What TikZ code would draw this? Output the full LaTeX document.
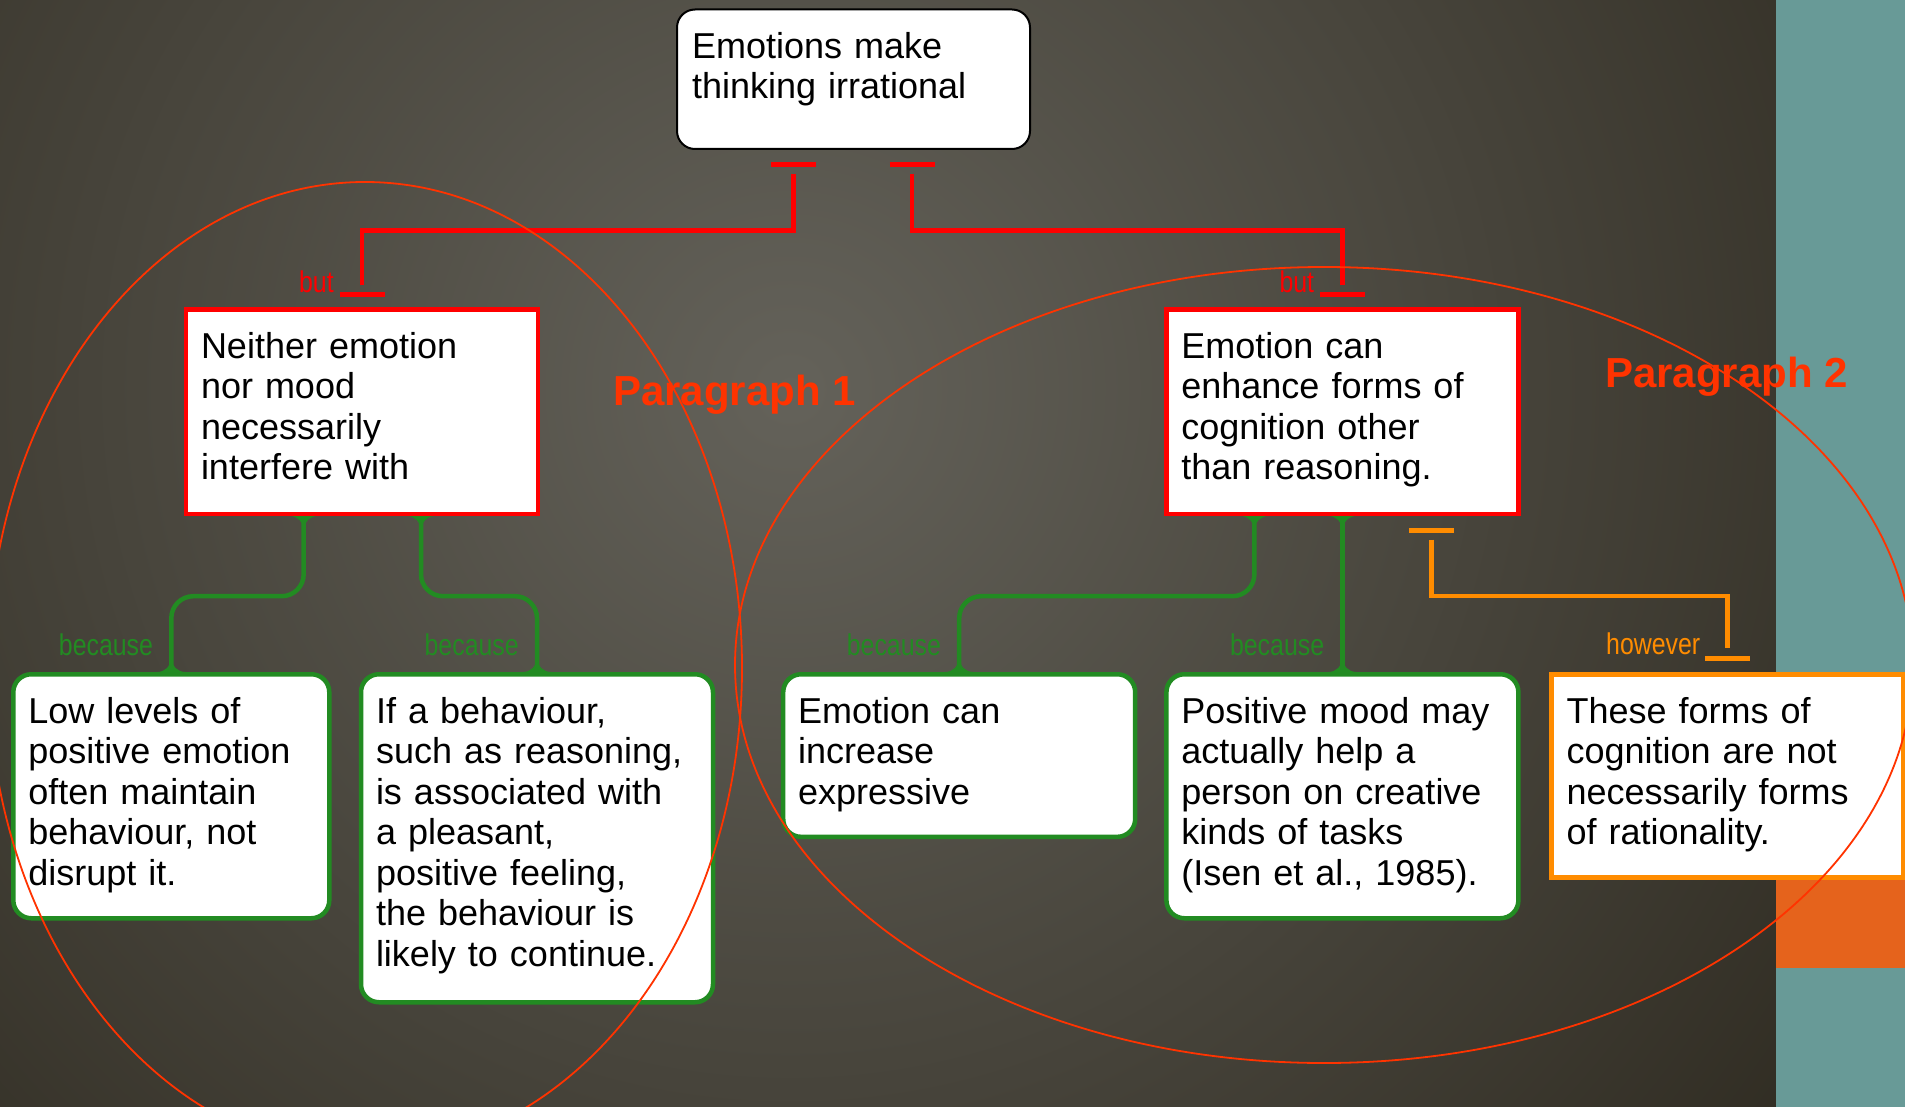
\documentclass[tikz,border=0pt]{standalone}
\usepackage{fontspec}
\setmainfont{Liberation Sans}
\newfontfamily\narrowsans[FakeStretch=0.83]{Liberation Sans}
\definecolor{bglight}{RGB}{100,98,90}
\definecolor{bgdark}{RGB}{42,38,28}
\definecolor{stripteal}{RGB}{104,154,151}
\definecolor{striporange}{RGB}{229,99,28}
\definecolor{linkred}{RGB}{255,0,0}
\definecolor{linkgreen}{RGB}{34,139,34}
\definecolor{linkorange}{RGB}{255,140,0}
\definecolor{paracolor}{RGB}{255,51,0}
\tikzset{
	treenode/.style = {
		align=left,
		anchor=north,
		fill=white,
		text=black,
		font=\fontsize{36}{40.5}\selectfont,
		text width=322pt,
		text height=27pt,
		inner xsep=15pt,
		inner ysep=22pt
	},
	node_top/.style = {
		treenode,
		draw=black,
		line width=2pt,
		rounded corners=18pt
	},
	node_r/.style = {
		treenode,
		draw=linkred,
		line width=4.5pt
	},
	node_g/.style = {
		treenode,
		draw=linkgreen,
		line width=4.5pt,
		rounded corners=18pt
	},
	node_o/.style = {
		treenode,
		draw=linkorange,
		line width=4.5pt
	},
	link_r/.style = {
		draw=linkred,
		line width=4.5pt
	},
	link_g/.style = {
		draw=linkgreen,
		line width=4.5pt,
		rounded corners=22pt
	},
	link_o/.style = {
		draw=linkorange,
		line width=4.5pt
	},
	tee_bar/.pic = {
		\draw[line width=5pt] (-22.5,0) -- (22.5,0);
	},
	word/.style = {
		font=\narrowsans\fontsize{30}{30}\selectfont,
		anchor=base east,
		inner sep=0pt
	},
	para/.style = {
		text=paracolor,
		font=\bfseries\fontsize{42}{42}\selectfont,
		anchor=base west,
		inner sep=0pt
	},
	ring/.style = {
		draw=paracolor,
		line width=1.8pt
	},
	flare_down/.pic = {
		\fill[linkgreen] (-14,0) arc[start angle=-90, end angle=0, radius=14]
			arc[start angle=180, end angle=270, radius=14] -- cycle;
	},
	flare_up/.pic = {
		\fill[linkgreen] (-14,0) arc[start angle=90, end angle=0, radius=14]
			arc[start angle=180, end angle=90, radius=14] -- cycle;
	}
}
\begin{document}
\begin{tikzpicture}[x=1pt, y=-1pt]
\useasboundingbox (0,0) rectangle (1905,1107);
\begin{scope}
	\clip (0,0) rectangle (1905,1107);
	\shade[inner color=bglight, outer color=bgdark] (790,389) circle [radius=1400];
\end{scope}
\fill[stripteal] (1776,0) rectangle (1905,1107);
\fill[striporange] (1776,860) rectangle (1905,968);

\node [node_top, text width=323pt, text depth=68.5pt] (irrational) at (853.5,8.5) {Emotions make\\thinking irrational};
\node [node_r, text depth=133.5pt] (neither) at (362,307) {Neither emotion\\nor mood\\necessarily\\interfere with};
\node [node_r, text depth=133.5pt] (enhance) at (1342.4,307) {Emotion can\\enhance forms of\\cognition other\\than reasoning.};
\node [node_g, text width=286pt, text depth=173pt] (lowlevels) at (171.3,672) {Low levels of\\positive emotion\\often maintain\\behaviour, not\\disrupt it.};
\node [node_g, text depth=257pt] (pleasant) at (537,672) {If a behaviour,\\such as reasoning,\\is associated with\\a pleasant,\\positive feeling,\\the behaviour is\\likely to continue.};
\node [node_g, text depth=91.6pt] (expressive) at (959.2,672) {Emotion can\\increase\\expressive};
\node [node_g, text depth=173pt] (creative) at (1342.4,672) {Positive mood may\\actually help a\\person on creative\\kinds of tasks\\(Isen et al., 1985).};
\node [node_o, text depth=132pt] (notrational) at (1727.5,672) {These forms of\\cognition are not\\necessarily forms\\of rationality.};

\draw [link_r, shorten <=23.7pt, shorten >=22pt] ([xshift=-60pt]irrational.south) -- ++(0,80.5) -| (neither.north)
	node [word, text=linkred, xshift=-26pt, yshift=15pt] {but};
\draw [link_r, shorten <=23.7pt, shorten >=22pt] ([xshift=58.5pt]irrational.south) -- ++(0,80.5) -| (enhance.north)
	node [word, text=linkred, xshift=-26pt, yshift=15pt] {but};
\draw [link_o, shorten <=23.5pt, shorten >=23.7pt] ([xshift=89pt]enhance.south) -- ++(0,80.2) -| (notrational.north)
	node [word, text=linkorange, xshift=-25pt, yshift=18pt] {however};
\begin{scope}[linkred]
	\pic at ([xshift=-60pt, yshift=-14.3pt]irrational.south) {tee_bar};
	\pic at ([xshift=58.5pt, yshift=-14.3pt]irrational.south) {tee_bar};
	\pic at ([yshift=12.7pt]neither.north) {tee_bar};
	\pic at ([yshift=12.7pt]enhance.north) {tee_bar};
\end{scope}
\begin{scope}[linkorange]
	\pic at ([xshift=89pt, yshift=-14.5pt]enhance.south) {tee_bar};
	\pic at ([yshift=13.7pt]notrational.north) {tee_bar};
\end{scope}

\draw [link_g] ([xshift=-58.3pt]neither.south) -- ++(0,80.2) -| (lowlevels.north)
	node [word, text=linkgreen, xshift=-16pt, yshift=17pt] {because};
\draw [link_g] ([xshift=59pt]neither.south) -- ++(0,80.2) -| (pleasant.north)
	node [word, text=linkgreen, xshift=-16pt, yshift=17pt] {because};
\draw [link_g] ([xshift=-88pt]enhance.south) -- ++(0,80.2) -| (expressive.north)
	node [word, text=linkgreen, xshift=-16pt, yshift=17pt] {because};
\draw [link_g] (enhance.south) -- (creative.north)
	node [word, text=linkgreen, xshift=-16pt, yshift=17pt] {because};
\foreach \dx in {-58.3,59} \pic at ([xshift=\dx pt]neither.south) {flare_down};
\foreach \dx in {-88,0} \pic at ([xshift=\dx pt]enhance.south) {flare_down};
\foreach \name in {lowlevels,pleasant,expressive,creative} \pic at (\name.north) {flare_up};

\node [para] (para1) at (613,405.7) {Paragraph 1};
\node [para] (para2) at (1605,387) {Paragraph 2};
\draw [ring] (365,668) ellipse [x radius=377, y radius=486];
\draw [ring] (1324,665) ellipse [x radius=589, y radius=398];
\end{tikzpicture}
\end{document}
